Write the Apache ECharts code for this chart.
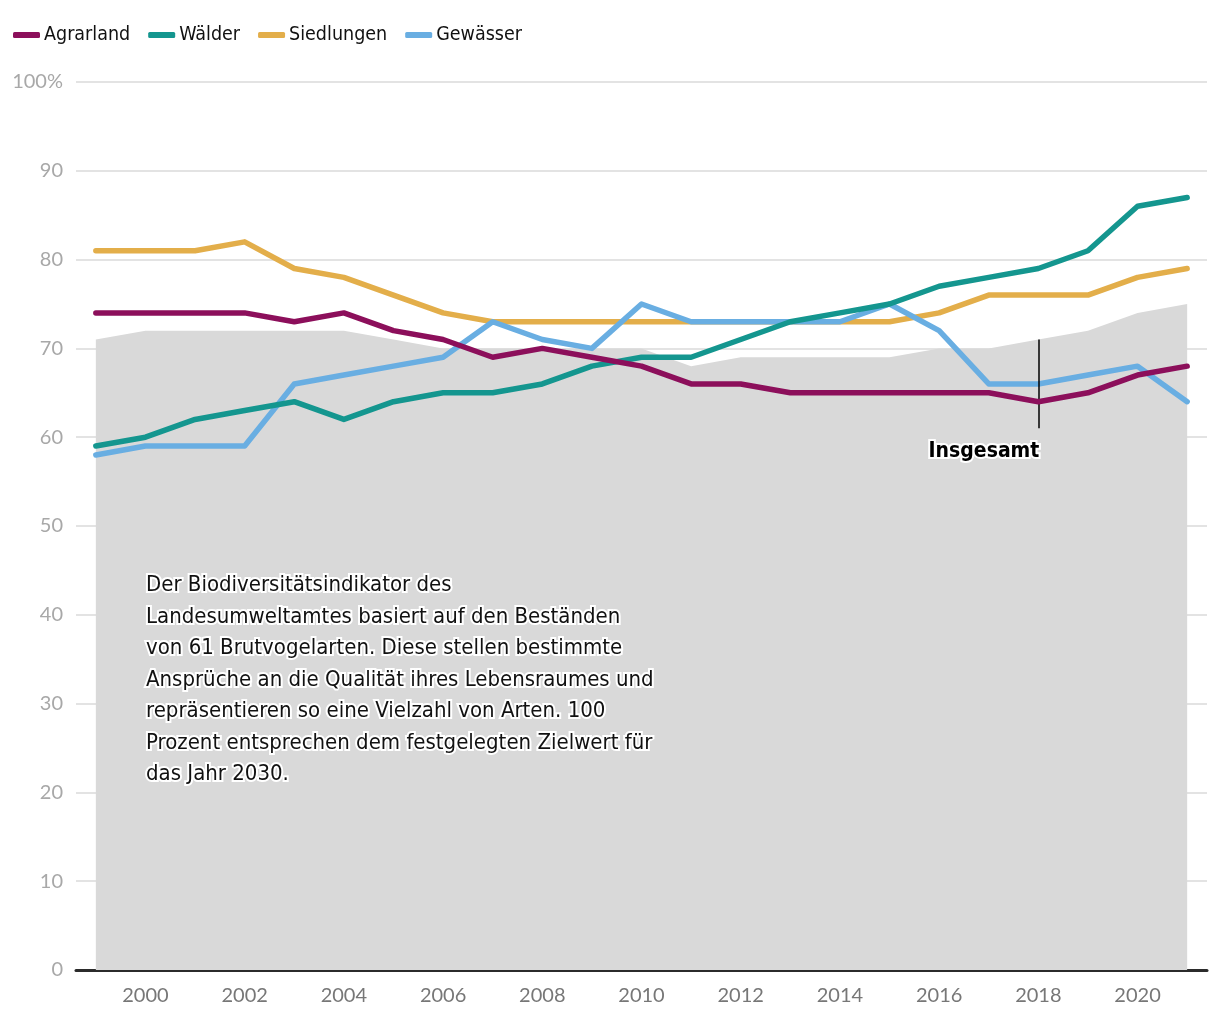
<!DOCTYPE html>
<html><head><meta charset="utf-8">
<script src="https://cdn.jsdelivr.net/npm/echarts@6/dist/echarts.min.js"></script>
<style>html,body{margin:0;padding:0;background:#fff}#c{width:1220px;height:1020px}</style>
</head><body><div id="c"></div>
<script>
const years = [1999,2000,2001,2002,2003,2004,2005,2006,2007,2008,2009,2010,2011,2012,2013,2014,2015,2016,2017,2018,2019,2020,2021];
const insgesamt  = [71,72,72,72,72,72,71,70,70,70,70,70,68,69,69,69,69,70,70,71,72,74,75];
const agrarland  = [74,74,74,74,73,74,72,71,69,70,69,68,66,66,65,65,65,65,65,64,65,67,68];
const waelder    = [59,60,62,63,64,62,64,65,65,66,68,69,69,71,73,74,75,77,78,79,81,86,87];
const siedlungen = [81,81,81,82,79,78,76,74,73,73,73,73,73,73,73,73,73,74,76,76,76,78,79];
const gewaesser  = [58,59,59,59,66,67,68,69,73,71,70,75,73,73,73,73,75,72,66,66,67,68,64];
const xTickLabels = [2000,2002,2004,2006,2008,2010,2012,2014,2016,2018,2020];
const yTicks = [0,10,20,30,40,50,60,70,80,90,100];
const seriesNames = ['Agrarland','Wälder','Siedlungen','Gewässer'];
const annotationYear = 2018, annotationFrom = 71, annotationTo = 61;
const noteText = 'Der Biodiversitätsindikator des\nLandesumweltamtes basiert auf den Beständen\nvon 61 Brutvogelarten. Diese stellen bestimmte\nAnsprüche an die Qualität ihres Lebensraumes und\nrepräsentieren so eine Vielzahl von Arten. 100\nProzent entsprechen dem festgelegten Zielwert für\ndas Jahr 2030.';

const pair = arr => years.map((y,i)=>[y,arr[i]]);
const condensed = '"Liberation Sans Narrow","DejaVu Sans Condensed","Roboto",sans-serif';
const colors = {Agrarland:'#8c0f5b','Wälder':'#14968f',Siedlungen:'#e3ae4a','Gewässer':'#69aee2'};

function lineSeries(name, arr, z){
  return {name, type:'line', data:pair(arr), symbol:'none', z,
    lineStyle:{width:5.5, color:colors[name], cap:'round', join:'round'},
    itemStyle:{color:colors[name]}, emphasis:{disabled:true}};
}

const chart = echarts.init(document.getElementById('c'));
chart.setOption({
  animation:false,
  grid:{left:76, right:13, top:82, bottom:50, containLabel:false},
  legend:{left:8, top:20, data:seriesNames, icon:'roundRect', itemWidth:27, itemHeight:6, itemGap:18,
    textStyle:{fontSize:19.5, color:'#111', fontFamily:condensed, padding:[0,0,0,-1]}},
  xAxis:{type:'value', min:1998.6, max:2021.4,
    axisLine:{show:true, lineStyle:{color:'#2b2b2b', width:3}},
    axisTick:{show:false}, splitLine:{show:false},
    axisLabel:{customValues:xTickLabels, color:'#777', fontSize:20, fontFamily:'Lato, sans-serif', margin:16, formatter:v=>String(v)}},
  yAxis:{type:'value', min:0, max:100, interval:10,
    axisLine:{show:false}, axisTick:{show:false},
    splitLine:{lineStyle:{color:'#e3e3e3', width:2}},
    axisLabel:{color:'#a8a8a8', fontSize:20, fontFamily:'Lato, sans-serif', margin:13,
      formatter:v=> v===100 ? '100%' : String(v)}},
  series:[
    {name:'Insgesamt', type:'line', data:pair(insgesamt), symbol:'none', z:1, silent:true,
      lineStyle:{width:0}, areaStyle:{color:'#d9d9d9', opacity:1}, itemStyle:{color:'#d9d9d9'},
      markLine:{silent:true, symbol:'none', animation:false,
        lineStyle:{color:'#000', width:1.5, type:'solid'}, label:{show:false},
        data:[[{coord:[annotationYear,annotationFrom]},{coord:[annotationYear,annotationTo]}]]}},
    lineSeries('Siedlungen', siedlungen, 3),
    lineSeries('Gewässer', gewaesser, 4),
    lineSeries('Wälder', waelder, 5),
    lineSeries('Agrarland', agrarland, 6)
  ]
});

const p = chart.convertToPixel({gridIndex:0}, [annotationYear, annotationTo]);
chart.setOption({
  graphic:[
    {type:'text', left:144, top:570, z:100,
      style:{text:noteText, font:'22px '+condensed, fill:'#111', lineHeight:31.5,
        stroke:'#fff', lineWidth:4}},
    {type:'text', x:p[0]+1, y:p[1]+13, z:100,
      style:{text:'Insgesamt', font:'bold 21px '+condensed, fill:'#000', align:'right', verticalAlign:'top',
        stroke:'#fff', lineWidth:4}}
  ]
});
</script></body></html>
